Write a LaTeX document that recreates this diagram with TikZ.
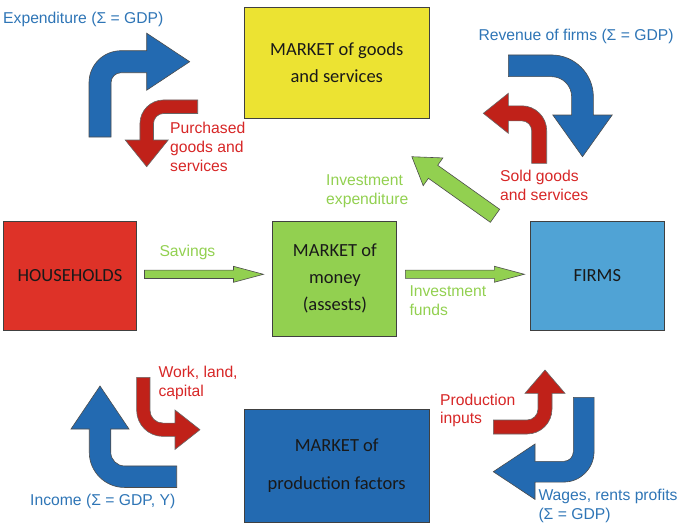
\documentclass[tikz,border=0pt]{standalone}
\usepackage{fontspec}
\setmainfont{Liberation Sans}
\newfontfamily\boxfont{Carlito}
\usetikzlibrary{positioning,calc}

\definecolor{cYellow}{RGB}{236,227,50}
\definecolor{cRed}{RGB}{222,50,40}
\definecolor{cGreen}{RGB}{146,208,80}
\definecolor{cLightBlue}{RGB}{80,163,213}
\definecolor{cDarkBlue}{RGB}{35,106,177}
\definecolor{cArrRed}{RGB}{192,33,25}
\definecolor{cTxtRed}{RGB}{215,38,38}
\definecolor{cTxtBlue}{RGB}{46,117,182}

\tikzset{BOX/.style={rectangle,draw=black!75,line width=0.9pt,inner sep=0pt,align=center,font=\boxfont\fontsize{18.5}{27}\selectfont,text=black!90}}
\tikzset{LABEL/.style={inner sep=0pt,anchor=west,align=left,font=\fontsize{15.7}{18.7}\selectfont}}
\tikzset{BBLUE/.style={fill=cDarkBlue,draw=black!70,line width=0.6pt}}
\tikzset{BRED/.style={fill=cArrRed,draw=black!60,line width=0.6pt}}
\tikzset{GARROW/.style={fill=cGreen,draw=black!70,line width=0.6pt}}
% bent block arrow: tail/radius/leg/shaft/head width/head length
\tikzset{pics/bent/.style args={#1/#2/#3/#4/#5/#6}{code={
  \path[pic actions] ({-#4/2},0) -- ({-#4/2},#1) arc[start angle=180,end angle=90,radius={#2+#4/2}]
    -- ({#2+#3},{#1+#2+#4/2}) -- ({#2+#3},{#1+#2+#5/2}) -- ({#2+#3+#6},{#1+#2})
    -- ({#2+#3},{#1+#2-#5/2}) -- ({#2+#3},{#1+#2-#4/2}) -- (#2,{#1+#2-#4/2})
    arc[start angle=90,end angle=180,radius={#2-#4/2}] -- ({#4/2},0) -- cycle;
}}}
% straight block arrow: length/shaft/head width/head length
\tikzset{pics/straight/.style args={#1/#2/#3/#4}{code={
  \path[pic actions] (0,{-#2/2}) -- ({#1-#4},{-#2/2}) -- ({#1-#4},{-#3/2}) -- (#1,0)
    -- ({#1-#4},{#3/2}) -- ({#1-#4},{#2/2}) -- (0,{#2/2}) -- cycle;
}}}

\begin{document}
\begin{tikzpicture}[x=1pt,y=1pt]
\useasboundingbox (0,0) rectangle (685,-528);

\node[BOX,fill=cRed,minimum width=133.4,minimum height=109] (n_house) at (70,-275.5) {HOUSEHOLDS};
\node[BOX,fill=cGreen,minimum width=124,minimum height=115.7,right=135.3 of n_house.north east,anchor=north west] (n_money) {MARKET of\\money\\(assests)};
\node[BOX,fill=cLightBlue,minimum width=134.4,minimum height=109,right=132.3 of n_money.north east,anchor=north west] (n_firms) {FIRMS};
\node[BOX,fill=cYellow,minimum width=185.5,minimum height=111] (n_goods) at (336.75,-62.5) {MARKET of goods\\and services};
\node[BOX,fill=cDarkBlue,minimum width=185.3,minimum height=113.7] (n_factors) at (336.7,-465.9) {MARKET of\\[10.6pt]production factors};

\pic[GARROW] at ($(n_house.east)+(7.3,1.2)$) {straight={119/8.3/16/30}};
\pic[GARROW] at ($(n_money.east)+(8,4.6)$) {straight={119/8.3/16/30}};
\pic[GARROW,rotate=144.6] at (495,-215.8) {straight={102/16/34/26}};

\pic[BBLUE] at (100,-137) {bent={54.3/21/25.7/22/57/43}};
\pic[BRED,rotate=90,xscale=-1] at (197.7,-106.7) {bent={34/17/16.3/13.5/43/26.7}};
\pic[BBLUE,rotate=-90] at (508.3,-65.8) {bent={43.2/31/18.2/21.7/59.4/41.7}};
\pic[BRED,xscale=-1] at (539.2,-163.3) {bent={32.5/17.5/13.4/15/40/25}};
\pic[BBLUE,rotate=90] at (176.7,-476.7) {bent={52.2/24.5/23.2/21.5/58/43}};
\pic[BRED,rotate=180,xscale=-1] at (143.3,-377.3) {bent={32.9/19.5/12.2/13.3/39.4/25}};
\pic[BRED,rotate=-90,xscale=-1] at (493.3,-427) {bent={33.7/18/15.7/14/40/23.3}};
\pic[BBLUE,rotate=180] at (583.7,-397.3) {bent={54.4/20/28.7/20.7/55.4/41.7}};

\node[LABEL,text=cTxtBlue] (n_expend) at (3,-19.3) {Expenditure (Σ = GDP)};
\node[LABEL,text=cTxtRed] (n_purch) at (170,-146.7) {Purchased\\goods and\\services};
\node[LABEL,text=cTxtBlue] (n_revenue) at (478.3,-36.7) {Revenue of firms (Σ = GDP)};
\node[LABEL,text=cTxtRed] (n_sold) at (500,-185.5) {Sold goods\\and services};
\node[LABEL,text=cGreen] (n_invexp) at (326,-191.2) {Investment\\expenditure};
\node[LABEL,text=cGreen] (n_savings) at (159.3,-252.3) {Savings};
\node[LABEL,text=cGreen] (n_funds) at (409.3,-300.8) {Investment\\funds};
\node[LABEL,text=cTxtRed] (n_work) at (158.3,-382.8) {Work, land,\\capital};
\node[LABEL,text=cTxtBlue] (n_income) at (30,-501.7) {Income (Σ = GDP, Y)};
\node[LABEL,text=cTxtRed] (n_inputs) at (440,-410.3) {Production\\inputs};
\node[LABEL,text=cTxtBlue] (n_wages) at (538.3,-505.8) {Wages, rents profits\\(Σ = GDP)};

\end{tikzpicture}
\end{document}
